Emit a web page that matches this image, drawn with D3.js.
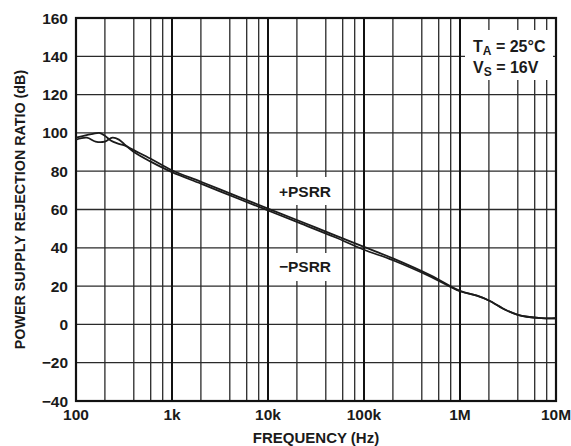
<!DOCTYPE html>
<html>
<head>
<meta charset="utf-8">
<script src="https://cdn.jsdelivr.net/npm/d3@7"></script>
<style>
  body { margin: 0; background: #fff; }
  text { font-family: "Liberation Sans", Arial, Helvetica, sans-serif; font-weight: bold; fill: #1a1a1a; }
</style>
</head>
<body>
<div id="chart"></div>
<script>
// chart size and plot margins
const width = 571;
const height = 446;
const margin = {left: 76, right: 15, top: 18, bottom: 45};

// data
const freqTicks = [100, 1e3, 1e4, 1e5, 1e6, 1e7];
const freqLabels = ["100", "1k", "10k", "100k", "1M", "10M"];
const dbTicks = [-40, -20, 0, 20, 40, 60, 80, 100, 120, 140, 160];

const plusFreq = [100, 120, 150, 175, 200, 230, 270, 320, 400, 600, 1e3, 2e3, 5e3, 1e4, 2e4, 5e4, 1e5, 2e5, 5e5, 1e6, 1.5e6, 2e6, 3e6, 4e6, 5e6, 7e6, 1e7];
const plusDb   = [97.5, 98.5, 99.5, 100, 98.5, 96, 94.5, 93.5, 91, 86.5, 80.5, 74.5, 66.5, 60.5, 54.5, 46.5, 40.5, 34.5, 25.5, 17.5, 15, 12.5, 7.5, 5, 4, 3.3, 3.2];

const minusFreq = [100, 130, 160, 200, 240, 280, 320, 400, 600, 1e3, 2e3, 5e3, 1e4, 2e4, 5e4, 1e5, 2e5, 5e5, 1e6, 1.5e6, 2e6, 3e6, 4e6, 5e6, 7e6, 1e7];
const minusDb   = [96.5, 97.5, 95.5, 95.5, 97.5, 96.5, 94, 90, 85, 79.5, 73.5, 65.5, 59.5, 53.5, 45.5, 39, 33.5, 24.8, 17.3, 15, 12.5, 7.5, 5, 4, 3.3, 3.2];

const svg = d3.select("#chart")
  .append("svg")
  .attr("width", width)
  .attr("height", height);

const x = d3.scaleLog()
  .domain([100, 1e7])
  .range([margin.left, width - margin.right]);

const y = d3.scaleLinear()
  .domain([-40, 160])
  .range([height - margin.bottom, margin.top]);

// minor gridlines at 2,4,6,8 of each decade
const minorTicks = [];
for (let d = 100; d < 1e7; d *= 10) {
  [2, 4, 6, 8].forEach(m => minorTicks.push(d * m));
}

const grid = svg.append("g");

grid.selectAll(".hgrid")
  .data(dbTicks)
  .enter()
  .append("line")
    .attr("x1", x.range()[0])
    .attr("x2", x.range()[1])
    .attr("y1", d => y(d))
    .attr("y2", d => y(d))
    .attr("stroke", "#2a2a2a")
    .attr("stroke-width", 1.3);

grid.selectAll(".vminor")
  .data(minorTicks)
  .enter()
  .append("line")
    .attr("x1", d => x(d))
    .attr("x2", d => x(d))
    .attr("y1", y.range()[0])
    .attr("y2", y.range()[1])
    .attr("stroke", "#2a2a2a")
    .attr("stroke-width", 1.3);

grid.selectAll(".vmajor")
  .data(freqTicks)
  .enter()
  .append("line")
    .attr("x1", d => x(d))
    .attr("x2", d => x(d))
    .attr("y1", y.range()[0])
    .attr("y2", y.range()[1])
    .attr("stroke", "#111")
    .attr("stroke-width", 2);

// white boxes behind labels (they break the grid)
const boxes = [
  {x0: 465, x1: 553, y0: 30, y1: 80},
  {x0: 273, x1: 338, y0: 177, y1: 205},
  {x0: 272, x1: 338, y0: 253, y1: 281}
];
svg.selectAll(".box")
  .data(boxes)
  .enter()
  .append("rect")
    .attr("x", d => d.x0)
    .attr("y", d => d.y0)
    .attr("width", d => d.x1 - d.x0)
    .attr("height", d => d.y1 - d.y0)
    .attr("fill", "#fff");

// frame
svg.append("rect")
  .attr("x", x.range()[0])
  .attr("y", y.range()[1])
  .attr("width", x.range()[1] - x.range()[0])
  .attr("height", y.range()[0] - y.range()[1])
  .attr("fill", "none")
  .attr("stroke", "#111")
  .attr("stroke-width", 2.2);

// curves
const line = d3.line()
  .x(d => x(d[0]))
  .y(d => y(d[1]))
  .curve(d3.curveCatmullRom.alpha(0.5));

svg.append("path")
  .datum(d3.zip(plusFreq, plusDb))
  .attr("d", line)
  .attr("fill", "none")
  .attr("stroke", "#1c1c1c")
  .attr("stroke-width", 1.8);

svg.append("path")
  .datum(d3.zip(minusFreq, minusDb))
  .attr("d", line)
  .attr("fill", "none")
  .attr("stroke", "#1c1c1c")
  .attr("stroke-width", 1.8);

// y tick labels
svg.selectAll(".ylab")
  .data(dbTicks)
  .enter()
  .append("text")
    .attr("x", 68)
    .attr("y", d => y(d) + 5.5)
    .attr("text-anchor", "end")
    .attr("font-size", 15.5)
    .text(d => d < 0 ? "\u2212" + Math.abs(d) : d);

// x tick labels
svg.selectAll(".xlab")
  .data(freqTicks)
  .enter()
  .append("text")
    .attr("x", d => x(d))
    .attr("y", 420)
    .attr("text-anchor", "middle")
    .attr("font-size", 15.5)
    .text((d, i) => freqLabels[i]);

// axis titles
svg.append("text")
  .attr("x", (x.range()[0] + x.range()[1]) / 2)
  .attr("y", 443)
  .attr("text-anchor", "middle")
  .attr("font-size", 15)
  .text("FREQUENCY (Hz)");

svg.append("text")
  .attr("transform", `translate(25, ${(y.range()[0] + y.range()[1]) / 2}) rotate(-90)`)
  .attr("text-anchor", "middle")
  .attr("font-size", 14.3)
  .text("POWER SUPPLY REJECTION RATIO (dB)");

// curve labels
svg.append("text")
  .attr("x", 305).attr("y", 197)
  .attr("text-anchor", "middle")
  .attr("font-size", 15.5)
  .text("+PSRR");

svg.append("text")
  .attr("x", 305).attr("y", 272)
  .attr("text-anchor", "middle")
  .attr("font-size", 15.5)
  .text("\u2212PSRR");

// conditions
const cond = svg.append("g");
const t1 = cond.append("text").attr("x", 473).attr("y", 52).attr("font-size", 16);
t1.append("tspan").text("T");
t1.append("tspan").attr("dy", 3).attr("font-size", 12).text("A");
t1.append("tspan").attr("dy", -3).text(" = 25\u00B0C");

const t2 = cond.append("text").attr("x", 473).attr("y", 73).attr("font-size", 16);
t2.append("tspan").text("V");
t2.append("tspan").attr("dy", 3).attr("font-size", 12).text("S");
t2.append("tspan").attr("dy", -3).text(" = 16V");
</script>
</body>
</html>
